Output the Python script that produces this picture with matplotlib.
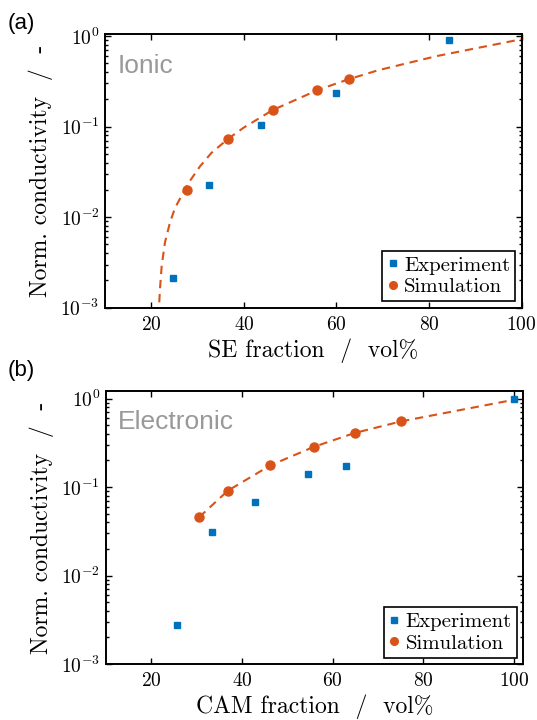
import numpy as np
import matplotlib
matplotlib.use("Agg")
import matplotlib.pyplot as plt
from matplotlib.ticker import LogLocator, NullLocator, NullFormatter

# Colours (MATLAB style)
c_exp = "#0072BD"
c_sim = "#D95319"

# (a) Ionic - SE fraction
a_exp_x = [24.7, 32.5, 43.6, 59.9, 84.4]
a_exp_y = [0.00214, 0.0225, 0.104, 0.236, 0.896]
a_sim_x = [27.8, 36.5, 46.2, 55.8, 62.6]
a_sim_y = [0.0198, 0.0732, 0.153, 0.255, 0.334]
# dashed fit curve
a_fit_x = [21.62, 21.66, 21.88, 22.25, 22.96, 24.04, 25.12, 27.8, 30.5, 33.0,
           36.6, 40.0, 46.2, 55.9, 62.6, 69.0, 81.6, 100.0]
a_fit_y = [0.0008, 0.001, 0.00162, 0.00292, 0.00527, 0.00875, 0.0126, 0.0229, 0.0363, 0.0513,
           0.0733, 0.0977, 0.152, 0.253, 0.333, 0.419, 0.600, 0.923]

# (b) Electronic - CAM fraction
b_exp_x = [25.7, 33.5, 42.8, 54.5, 63.0, 100.0]
b_exp_y = [0.00274, 0.0312, 0.0677, 0.140, 0.173, 1.0]
b_sim_x = [30.6, 36.9, 46.3, 55.8, 64.9, 75.2]
b_sim_y = [0.0457, 0.0909, 0.176, 0.284, 0.409, 0.554]
b_fit_x = [30.6, 36.9, 46.3, 55.8, 64.9, 75.2, 100.0]
b_fit_y = [0.0457, 0.0909, 0.176, 0.284, 0.409, 0.554, 0.97]

plt.rcParams["font.family"] = "cmr10"
plt.rcParams["mathtext.fontset"] = "cm"
plt.rcParams["axes.formatter.use_mathtext"] = True
plt.rcParams["axes.unicode_minus"] = False

fig = plt.figure(figsize=(5.37, 7.2), dpi=100)
ax1 = fig.add_axes([0.1955, 0.5726, 0.776, 0.3795])
ax2 = fig.add_axes([0.197, 0.0778, 0.777, 0.3792])


def style(ax, xlim, ylim, xlabel, tag, tag_y):
    ax.set_yscale("log")
    ax.set_xlim(*xlim)
    ax.set_ylim(*ylim)
    ax.set_xticks([20, 40, 60, 80, 100])
    ax.xaxis.set_minor_locator(NullLocator())
    ax.yaxis.set_major_locator(LogLocator(base=10, numticks=10))
    ax.yaxis.set_minor_locator(LogLocator(base=10, subs=np.arange(2, 10), numticks=20))
    ax.yaxis.set_minor_formatter(NullFormatter())
    ax.tick_params(which="both", direction="in", top=True, right=True, width=1.0,
                   labelsize=14)
    ax.tick_params(which="major", length=4)
    ax.tick_params(which="minor", length=2.5)
    ax.tick_params(axis="x", pad=6)
    ax.tick_params(axis="y", pad=4)
    for s in ax.spines.values():
        s.set_linewidth(1.4)
    ax.set_xlabel(xlabel, fontsize=17, labelpad=3)
    ax.set_ylabel("Norm. conductivity  /  -", fontsize=17, labelpad=5)
    ax.text(0.03, tag_y, tag, transform=ax.transAxes, fontsize=19,
            color="#999999", family="Liberation Sans", va="baseline")
    leg = ax.legend(loc="lower right", fontsize=15, handlelength=0.5,
                    handletextpad=0.3, borderpad=0.25, labelspacing=0.15,
                    borderaxespad=0.3, fancybox=False, framealpha=1,
                    edgecolor="black", markerscale=0.85)
    leg.get_frame().set_linewidth(1.2)


# panel (a)
ax1.plot(a_fit_x, a_fit_y, "--", color=c_sim, lw=1.5, dashes=(4, 2.8))
ax1.plot(a_exp_x, a_exp_y, "s", color=c_exp, ms=5, ls="none", label="Experiment")
ax1.plot(a_sim_x, a_sim_y, "o", color=c_sim, ms=6.5, ls="none", label="Simulation")
style(ax1, (10, 100), (1e-3, 1.04), "SE fraction  /  vol%", "Ionic", 0.86)

# panel (b)
ax2.plot(b_fit_x, b_fit_y, "--", color=c_sim, lw=1.5, dashes=(4, 2.8))
ax2.plot(b_exp_x, b_exp_y, "s", color=c_exp, ms=5, ls="none", label="Experiment")
ax2.plot(b_sim_x, b_sim_y, "o", color=c_sim, ms=6.5, ls="none", label="Simulation")
style(ax2, (10, 102), (1e-3, 1.22), "CAM fraction  /  vol%", "Electronic", 0.86)

fig.text(8 / 537, 1 - 24 / 720, "(a)", fontsize=16, family="Liberation Sans", va="center")
fig.text(8 / 537, 1 - 371 / 720, "(b)", fontsize=16, family="Liberation Sans", va="center")

fig.savefig("out.png", dpi=100)
